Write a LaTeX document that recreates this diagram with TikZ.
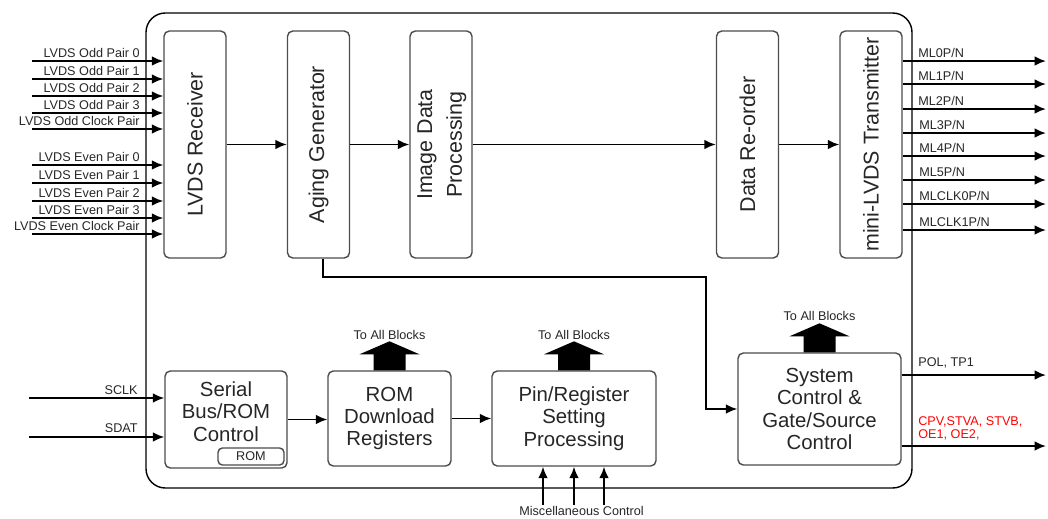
\documentclass[tikz,border=0pt]{standalone}
\usepackage{fontspec}
\setmainfont{Liberation Sans}
\usetikzlibrary{arrows.meta,calc,positioning}

\begin{document}
\begin{tikzpicture}[x=0.02cm,y=-0.02cm,
    blk/.style={draw=black!70,line width=.8pt,rounded corners=3pt,inner sep=0pt,align=center,text=black!85,font=\fontsize{11.6}{12.8}\selectfont},
    vblk/.style={blk,minimum width=1.24cm,minimum height=4.54cm,font=\fontsize{12.2}{17}\selectfont},
    lbl/.style={inner sep=0pt,text=black!85,font=\fontsize{7.2}{8.4}\selectfont},
    arr/.style={-{Latex[length=6.5pt,width=5.5pt]},line width=1.1pt},
    pics/bus/.style={code={\fill (-16,0) -- (-16,-16) -- (-30,-16) -- (0,-29) -- (30,-16) -- (16,-16) -- (16,0) -- cycle;}}]
    \useasboundingbox (0,0) rectangle (1048,518);

    % chip outline
    \draw [line width=.8pt,rounded corners=11pt] (146,13) rectangle (912,488);

    % data path
    \node [vblk] (recv) at (195,144.5) {\rotatebox{90}{LVDS Receiver}};
    \node [vblk] (agegen) at (318.5,144.5) {\rotatebox{90}{Aging Generator}};
    \node [vblk] (imgproc) at (441,144.5) {\rotatebox{90}{\begin{tabular}{@{}c@{}}Image Data\\Processing\end{tabular}}};
    \node [vblk] (reorder) at (747.5,144.5) {\rotatebox{90}{Data Re-order}};
    \node [vblk] (tx) at (871,144.5) {\rotatebox{90}{mini-LVDS Transmitter}};

    \draw [arr] (recv.east) -- (agegen.west);
    \draw [arr] (agegen.east) -- (imgproc.west);
    \draw [arr] (imgproc.east) -- (reorder.west);
    \draw [arr] (reorder.east) -- (tx.west);

    % control blocks
    \node [blk,minimum width=2.44cm,minimum height=1.94cm] (serial) at (226,419.5) {};
    \node [blk,draw=none] (serialtxt) at (226,411.5) {Serial\\Bus/ROM\\Control};
    \node [blk,minimum width=1.32cm,minimum height=.34cm,rounded corners=2.5pt,font=\fontsize{7.2}{8}\selectfont] (rom) at (251,456.5) {ROM};
    \node [blk,minimum width=2.46cm,minimum height=1.9cm] (romdl) at (389.5,418.5) {ROM\\Download\\Registers};
    \node [blk,minimum width=3.28cm,minimum height=1.9cm] (pinreg) at (574,418.5) {Pin/Register\\Setting\\Processing};
    \node [blk,minimum width=3.26cm,minimum height=2.24cm] (sysctl) at (819.5,409) {System\\Control \&\\Gate/Source\\Control};

    \draw [arr] (serial.east) -- (serial.east -| romdl.west);
    \draw [arr] (romdl.east) -- (pinreg.west);

    \coordinate (agetap) at ($(agegen.south)+(4.5,0)$);
    \coordinate (bend) at (706,277);
    \draw [arr] (agetap) |- (bend) |- (sysctl.west);

    % to all blocks
    \pic (romdlbus) at (romdl.north) {bus};
    \pic (pinregbus) at (pinreg.north) {bus};
    \pic (sysctlbus) at (sysctl.north) {bus};
    \node [lbl,anchor=base] (romdlto) at ($(romdl.north)+(0,-31)$) {To All Blocks};
    \node [lbl,anchor=base] (pinregto) at ($(pinreg.north)+(0,-31)$) {To All Blocks};
    \node [lbl,anchor=base] (sysctlto) at ($(sysctl.north)+(0,-32)$) {To All Blocks};

    % misc control
    \coordinate (misc1) at (543,505);
    \coordinate (misc2) at (574,505);
    \coordinate (misc3) at (604,505);
    \draw [arr] (misc1) -- (misc1 |- pinreg.south);
    \draw [arr] (misc2) -- (misc2 |- pinreg.south);
    \draw [arr] (misc3) -- (misc3 |- pinreg.south);
    \node [lbl,anchor=base] (misclbl) at (581.5,515.5) {Miscellaneous Control};

    % serial bus pins
    \coordinate (sclk) at (29,398);
    \coordinate (sdat) at (29,437);
    \draw [arr] (sclk) -- (sclk -| serial.west);
    \draw [arr] (sdat) -- (sdat -| serial.west);
    \node [lbl,anchor=base east] (sclklbl) at (138,394.5) {SCLK};
    \node [lbl,anchor=base east] (sdatlbl) at (138,432.5) {SDAT};

    % LVDS inputs
    \coordinate (odd0) at (32,61);
    \coordinate (odd1) at (32,79);
    \coordinate (odd2) at (32,96);
    \coordinate (odd3) at (32,113);
    \coordinate (oddclk) at (32,129);
    \coordinate (even0) at (32,165);
    \coordinate (even1) at (32,183);
    \coordinate (even2) at (32,201);
    \coordinate (even3) at (32,218);
    \coordinate (evenclk) at (32,234);
    \draw [arr] (odd0) -- (odd0 -| recv.west);
    \draw [arr] (odd1) -- (odd1 -| recv.west);
    \draw [arr] (odd2) -- (odd2 -| recv.west);
    \draw [arr] (odd3) -- (odd3 -| recv.west);
    \draw [arr] (oddclk) -- (oddclk -| recv.west);
    \draw [arr] (even0) -- (even0 -| recv.west);
    \draw [arr] (even1) -- (even1 -| recv.west);
    \draw [arr] (even2) -- (even2 -| recv.west);
    \draw [arr] (even3) -- (even3 -| recv.west);
    \draw [arr] (evenclk) -- (evenclk -| recv.west);
    \node [lbl,anchor=base east] (odd0lbl) at (140,57.5) {LVDS Odd Pair 0};
    \node [lbl,anchor=base east] (odd1lbl) at (140,75.5) {LVDS Odd Pair 1};
    \node [lbl,anchor=base east] (odd2lbl) at (140,92.5) {LVDS Odd Pair 2};
    \node [lbl,anchor=base east] (odd3lbl) at (140,109.5) {LVDS Odd Pair 3};
    \node [lbl,anchor=base east] (oddclklbl) at (140,125.5) {LVDS Odd Clock Pair};
    \node [lbl,anchor=base east] (even0lbl) at (140,161.5) {LVDS Even Pair 0};
    \node [lbl,anchor=base east] (even1lbl) at (140,179.5) {LVDS Even Pair 1};
    \node [lbl,anchor=base east] (even2lbl) at (140,197.5) {LVDS Even Pair 2};
    \node [lbl,anchor=base east] (even3lbl) at (140,214.5) {LVDS Even Pair 3};
    \node [lbl,anchor=base east] (evenclklbl) at (140,230.5) {LVDS Even Clock Pair};

    % mini-LVDS outputs
    \coordinate (ml0) at (1046,61);
    \coordinate (ml1) at (1046,84);
    \coordinate (ml2) at (1046,109);
    \coordinate (ml3) at (1046,133);
    \coordinate (ml4) at (1046,156);
    \coordinate (ml5) at (1046,180);
    \coordinate (mlclk0) at (1046,204);
    \coordinate (mlclk1) at (1046,230);
    \draw [arr] (ml0 -| tx.east) -- (ml0);
    \draw [arr] (ml1 -| tx.east) -- (ml1);
    \draw [arr] (ml2 -| tx.east) -- (ml2);
    \draw [arr] (ml3 -| tx.east) -- (ml3);
    \draw [arr] (ml4 -| tx.east) -- (ml4);
    \draw [arr] (ml5 -| tx.east) -- (ml5);
    \draw [arr] (mlclk0 -| tx.east) -- (mlclk0);
    \draw [arr] (mlclk1 -| tx.east) -- (mlclk1);
    \node [lbl,anchor=base west] (ml0lbl) at (918,57.5) {ML0P/N};
    \node [lbl,anchor=base west] (ml1lbl) at (918,80.5) {ML1P/N};
    \node [lbl,anchor=base west] (ml2lbl) at (918,105.5) {ML2P/N};
    \node [lbl,anchor=base west] (ml3lbl) at (919,129.5) {ML3P/N};
    \node [lbl,anchor=base west] (ml4lbl) at (919,152.5) {ML4P/N};
    \node [lbl,anchor=base west] (ml5lbl) at (919,176.5) {ML5P/N};
    \node [lbl,anchor=base west] (mlclk0lbl) at (919,200.5) {MLCLK0P/N};
    \node [lbl,anchor=base west] (mlclk1lbl) at (919,226.5) {MLCLK1P/N};

    % gate/source outputs
    \coordinate (pol) at (1046,375);
    \coordinate (cpv) at (1046,446);
    \draw [arr] (pol -| sysctl.east) -- (pol);
    \draw [arr] (cpv -| sysctl.east) -- (cpv);
    \node [lbl,anchor=base west] (pollbl) at (918,366) {POL, TP1};
    \node [lbl,anchor=base west,text=red] (cpvlbl) at (918,425.5) {CPV,STVA, STVB,};
    \node [lbl,anchor=base west,text=red] (oelbl) at (918,438.5) {OE1, OE2,};
\end{tikzpicture}
\end{document}
